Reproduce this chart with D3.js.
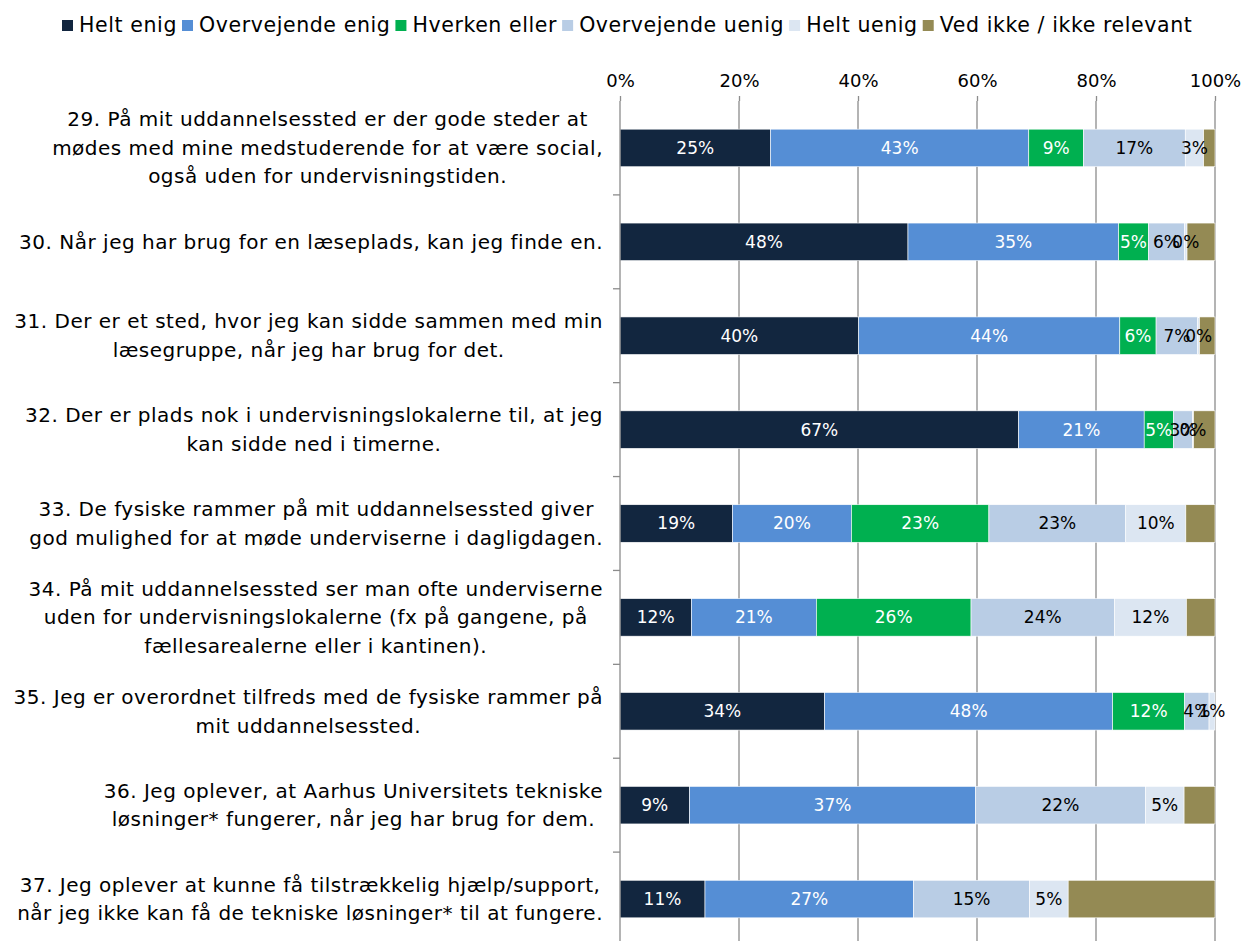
<!DOCTYPE html>
<html>
<head>
<meta charset="utf-8">
<script src="https://cdn.jsdelivr.net/npm/d3@7"></script>
<style>
  body { margin: 0; background: #fff; }
  svg { display: block; }
  text { font-family: "DejaVu Sans", sans-serif; }
</style>
</head>
<body>
<div id="chart"></div>
<script>
const width = 1242, height = 941

const categories = [
  "29. På mit uddannelsessted er der gode steder at|mødes med mine medstuderende for at være social,|også uden for undervisningstiden.",
  "30. Når jeg har brug for en læseplads, kan jeg finde en.",
  "31. Der er et sted, hvor jeg kan sidde sammen med min|læsegruppe, når jeg har brug for det.",
  "32. Der er plads nok i undervisningslokalerne til, at jeg|kan sidde ned i timerne.",
  "33. De fysiske rammer på mit uddannelsessted giver|god mulighed for at møde underviserne i dagligdagen.",
  "34. På mit uddannelsessted ser man ofte underviserne|uden for undervisningslokalerne (fx på gangene, på|fællesarealerne eller i kantinen).",
  "35. Jeg er overordnet tilfreds med de fysiske rammer på|mit uddannelsessted.",
  "36. Jeg oplever, at Aarhus Universitets tekniske|løsninger* fungerer, når jeg har brug for dem.",
  "37. Jeg oplever at kunne få tilstrækkelig hjælp/support,|når jeg ikke kan få de tekniske løsninger* til at fungere."
]

const series_names = ["Helt enig", "Overvejende enig", "Hverken eller",
  "Overvejende uenig", "Helt uenig", "Ved ikke / ikke relevant"]

// percent answers per question (null = not asked)
const helt_enig = [25.3, 48.4, 40.1, 67.0, 18.9, 12.0, 34.4, 9, 11]
const overvejende_enig = [43.4, 35.4, 43.9, 21.1, 20.0, 21.0, 48.4, 37, 27]
const hverken_eller = [9.2, 5.0, 6.1, 4.9, 23.1, 26.0, 12.1, null, null]
const overvejende_uenig = [17.1, 6.1, 7.0, 3.2, 23.0, 24.1, 4.1, 22, 15]
const helt_uenig = [3.1, 0.4, 0.3, 0.2, 10.1, 12.1, 1.0, 5, 5]
const ved_ikke = [1.9, 4.7, 2.6, 3.6, 4.9, 4.8, 0, 4, 19]

const x_ticks = [0, 0.2, 0.4, 0.6, 0.8, 1]

const colors = ["#12263f", "#558ed5", "#00b050", "#b9cde5", "#dce6f2", "#948a54"]
const label_colors = ["#fff", "#fff", "#fff", "#000", "#000", null]

const all_series = [helt_enig, overvejende_enig, hverken_eller,
  overvejende_uenig, helt_uenig, ved_ikke]

const rows = categories.map((c, i) => {
  let r = {cat: c}
  series_names.forEach((s, j) => { r[s] = all_series[j][i] == null ? 0 : all_series[j][i] })
  r.raw = all_series.map(a => a[i])
  return r
})

const margin = {top: 101, left: 620, right: 27, bottom: -5}

let svg = d3.select("#chart").append("svg")
  .attr("width", width).attr("height", height)

let x = d3.scaleLinear().domain([0, 1]).range([margin.left, width - margin.right])
let y = d3.scaleBand().domain(categories)
  .range([margin.top, height - margin.bottom]).paddingInner(0.6).paddingOuter(0.3)

let stack = d3.stack().keys(series_names).offset(d3.stackOffsetExpand)
let stacked = stack(rows)

// grid lines
svg.append("g").selectAll("line")
  .data(x_ticks.slice(1))
  .enter().append("line")
  .attr("x1", d => x(d)).attr("x2", d => x(d))
  .attr("y1", margin.top).attr("y2", height)
  .attr("stroke", "#8c8c8c").attr("stroke-width", 1.3)

// top axis
let xAxis = svg.append("g")
  .attr("transform", "translate(0," + margin.top + ")")
  .call(d3.axisTop(x).tickValues(x_ticks).tickFormat(d3.format(".0%")).tickSize(5).tickPadding(9))
xAxis.select(".domain").remove()
xAxis.selectAll(".tick line").attr("stroke", "#8c8c8c").attr("stroke-width", 1.3)
xAxis.selectAll("text").attr("font-size", 18).attr("fill", "#000")
  .style("font-family", "DejaVu Sans, sans-serif")

// bars
let layer = svg.append("g").selectAll("g")
  .data(stacked)
  .enter().append("g")
  .attr("fill", (d, i) => colors[i])

layer.selectAll("rect")
  .data(d => d)
  .enter().append("rect")
  .attr("x", d => x(d[0]))
  .attr("width", d => x(d[1]) - x(d[0]))
  .attr("y", d => y(d.data.cat))
  .attr("height", y.bandwidth())
  .attr("stroke", "#fff").attr("stroke-width", 0.6)

// value labels
stacked.forEach((s, i) => {
  if (!label_colors[i]) return
  svg.append("g").selectAll("text")
    .data(s.filter(d => d.data.raw[i] != null))
    .enter().append("text")
    .attr("x", d => (x(d[0]) + x(d[1])) / 2)
    .attr("y", d => y(d.data.cat) + y.bandwidth() / 2)
    .attr("dy", "0.35em")
    .attr("text-anchor", "middle")
    .attr("font-size", 17)
    .attr("fill", label_colors[i])
    .text(d => Math.round(d.data.raw[i]) + "%")
})

// left axis
svg.append("line")
  .attr("x1", margin.left).attr("x2", margin.left)
  .attr("y1", margin.top).attr("y2", height)
  .attr("stroke", "#8c8c8c").attr("stroke-width", 1.3)

let step = y.step()
svg.append("g").selectAll("line")
  .data(categories.slice(1))
  .enter().append("line")
  .attr("x1", margin.left - 7).attr("x2", margin.left)
  .attr("y1", d => y(d) - step * 0.3)
  .attr("y2", d => y(d) - step * 0.3)
  .attr("stroke", "#8c8c8c").attr("stroke-width", 1.3)

// category labels, centered lines, block right aligned
let cat_g = svg.append("g")
categories.forEach(c => {
  let lines = c.split("|")
  let cy = y(c) + y.bandwidth() / 2
  let t = cat_g.append("text")
    .attr("font-size", 20).attr("fill", "#000")
    .attr("letter-spacing", 0.5)
    .attr("text-anchor", "middle")
  lines.forEach((l, k) => {
    t.append("tspan")
      .attr("y", cy + (k - (lines.length - 1) / 2) * 28.5)
      .attr("dy", "0.35em")
      .text(l)
  })
  let w = d3.max(t.selectAll("tspan").nodes(), n => n.getComputedTextLength())
  t.selectAll("tspan").attr("x", 603 - w / 2)
})

// legend
let legend = svg.append("g")
let lx = 62
series_names.forEach((s, i) => {
  legend.append("rect")
    .attr("x", lx).attr("y", 20).attr("width", 11).attr("height", 11)
    .attr("fill", colors[i])
  let t = legend.append("text")
    .attr("x", lx + 17).attr("y", 25).attr("dy", "0.35em")
    .attr("font-size", 20.5).attr("letter-spacing", 0.6).attr("fill", "#000")
    .text(s)
  lx += 17 + t.node().getComputedTextLength() + 5
})
</script>
</body>
</html>
